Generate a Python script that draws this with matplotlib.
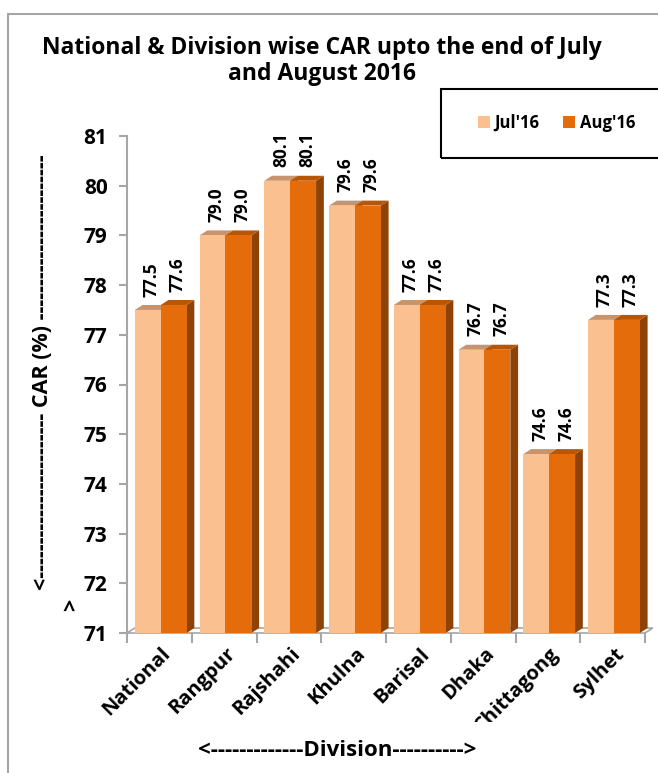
import numpy as np
import matplotlib.pyplot as plt
from matplotlib.patches import Rectangle, Polygon, Patch
from matplotlib.transforms import Bbox, TransformedBbox

# ---- data ----
divisions = ["National", "Rangpur", "Rajshahi", "Khulna", "Barisal",
             "Dhaka", "Chittagong", "Sylhet"]
jul16 = [77.5, 79.0, 80.1, 79.6, 77.6, 76.7, 74.6, 77.3]
aug16 = [77.6, 79.0, 80.1, 79.6, 77.6, 76.7, 74.6, 77.3]
series_names = ["Jul'16", "Aug'16"]

# ---- style ----
plt.rcParams['font.family'] = ['Open Sans', 'DejaVu Sans']
plt.rcParams['font.weight'] = 'bold'
col_front = ["#FAC090", "#E46C0A"]
col_top = ["#C8946C", "#B85606"]
col_side = ["#C07840", "#8E4206"]
ymin, ymax = 71, 81
barw = 0.4
ddx, ddy = 0.12, 0.1   # fake 3D depth, in data units

W, H = 658, 773
fig = plt.figure(figsize=(W / 100, H / 100), dpi=100)
ax = fig.add_axes([127 / W, 1 - 633 / H, (645 - 127) / W, (633 - 136) / H])
ax.set_xlim(0, len(divisions))
ax.set_ylim(ymin, ymax)

# outer chart border
fig.patches.append(Rectangle((8 / W, -0.1), 1.2, 1 - 14 / H + 0.1, transform=fig.transFigure,
                             fill=False, edgecolor="#A6A6A6", lw=1.5))

# floor
ax.add_patch(Polygon([(0, ymin), (len(divisions), ymin), (len(divisions) + ddx, ymin + ddy),
                      (ddx, ymin + ddy)], closed=True, facecolor="white",
                     edgecolor="#A6A6A6", lw=1.2, clip_on=False, zorder=1))

for s, vals in enumerate([jul16, aug16]):
    for i, v in enumerate(vals):
        x0 = i + 0.1 + s * barw + 0.02
        # side
        ax.add_patch(Polygon([(x0 + barw, ymin), (x0 + barw + ddx, ymin + ddy),
                              (x0 + barw + ddx, v + ddy), (x0 + barw, v)],
                             closed=True, facecolor=col_side[s], edgecolor="none",
                             clip_on=False, zorder=2 + s))
        # top
        ax.add_patch(Polygon([(x0, v), (x0 + barw, v), (x0 + barw + ddx, v + ddy),
                              (x0 + ddx, v + ddy)], closed=True, facecolor=col_top[s],
                             edgecolor="none", clip_on=False, zorder=2 + s))
        ax.bar(x0, v - ymin, bottom=ymin, width=barw, align='edge', color=col_front[s],
               zorder=2 + s, clip_on=False)
        ax.annotate(f"{v:.1f}", (x0 + barw / 2 + ddx / 2, v + ddy), xytext=(0, 6),
                    textcoords="offset points", rotation=90, ha="center", va="bottom",
                    fontsize=12.5, fontweight="bold", annotation_clip=False)

# axes look
for sp in ["top", "right"]:
    ax.spines[sp].set_visible(False)
ax.spines["bottom"].set_visible(False)
ax.spines["left"].set_color("#A6A6A6")
ax.spines["left"].set_linewidth(1.5)
ax.set_yticks(range(ymin, ymax + 1))
ax.tick_params(axis="y", colors="#A6A6A6", length=6, width=1.5, labelcolor="black",
               labelsize=15, pad=8)
ax.set_xticks(np.arange(len(divisions) + 1))
ax.tick_params(axis="x", colors="#A6A6A6", length=7, width=1.5, labelbottom=False)
for lab in ax.get_yticklabels():
    lab.set_fontweight("bold")

# category labels, cut off at the bottom of the plot area like the original
label_clip = TransformedBbox(Bbox.from_extents(0, 1 - 722 / H, 1, 1), fig.transFigure)
for i, name in enumerate(divisions):
    t = ax.text(i + 0.52, ymin - 0.22, name, rotation=45, ha="right", va="top",
                rotation_mode="anchor", fontsize=14.5, fontweight="bold")
    t.set_clip_box(label_clip)
    t.set_clip_on(True)

# axis titles
fig.text(43 / W, 1 - 372 / H, "<------------------------ CAR (%) ------------------------",
         rotation=90, ha="center", va="center", fontsize=15.5, fontweight="bold")
fig.text(72 / W, 1 - 605 / H, ">", rotation=90, ha="center", va="center",
         fontsize=15.5, fontweight="bold")
fig.text(337 / W, 1 - 751 / H, "<-------------Division---------->", ha="center", va="center",
         fontsize=16, fontweight="bold")

# title
fig.text(322 / W, 1 - 61 / H, "National & Division wise CAR upto the end of July\nand August 2016",
         ha="center", va="center", fontsize=16.5, fontweight="bold", linespacing=1.1)

# legend
fig.patches.append(Rectangle((441 / W, 1 - 158 / H), 0.5, 69 / H, transform=fig.transFigure,
                             fill=False, edgecolor="black", lw=1.5))
handles = [Patch(facecolor=col_front[k], label=series_names[k]) for k in range(2)]
fig.legend(handles=handles, loc="center left", bbox_to_anchor=(463 / W, 1 - 123 / H),
           ncol=2, frameon=False, handlelength=0.7, handleheight=0.7, handletextpad=0.3,
           columnspacing=1.4, prop={"weight": "bold", "size": 12})

fig.savefig("out.png", dpi=100)
